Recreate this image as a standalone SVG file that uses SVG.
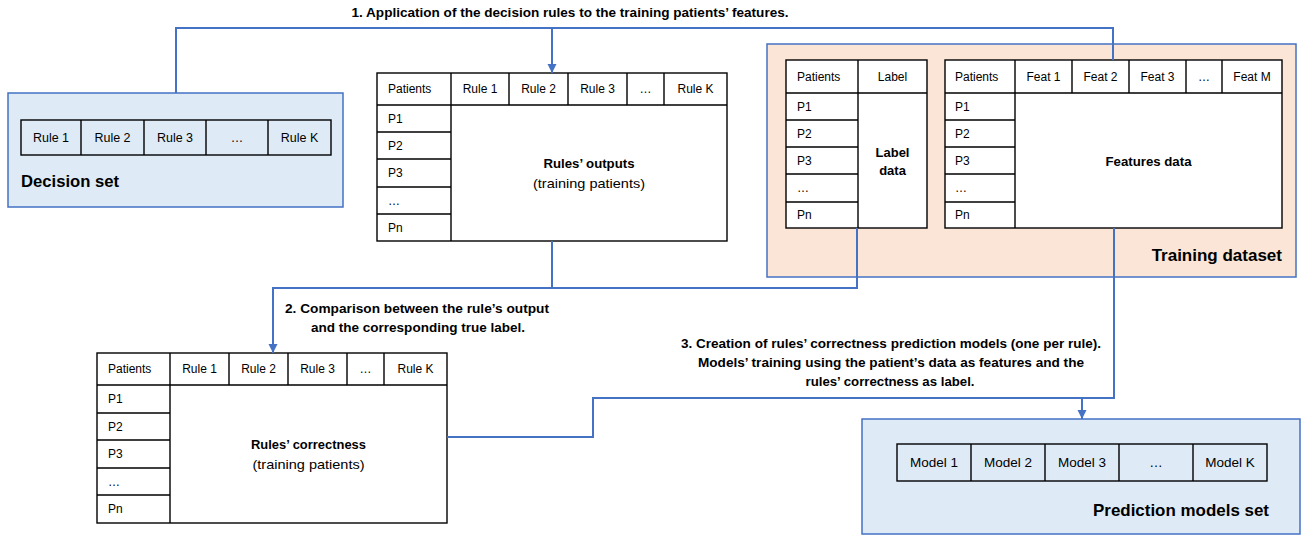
<svg xmlns="http://www.w3.org/2000/svg" width="1302" height="535" viewBox="0 0 1302 535">
<style>
text{font-family:"Liberation Sans",Arial,sans-serif;fill:#000}
.c{font-size:12px;text-anchor:middle}
.l{font-size:12px}
.b{font-weight:bold;font-size:13px;text-anchor:middle}
.big{font-weight:bold;font-size:16px}
.t{stroke:#000;stroke-width:1.4;fill:none}
.w{fill:#fff;stroke:#000;stroke-width:1.4}
.blue{fill:#DEEBF7;stroke:#4472C4;stroke-width:1.5}
.orange{fill:#FBE5D6;stroke:#4472C4;stroke-width:1.5}
.cn{stroke:#4472C4;stroke-width:2;fill:none}
</style>
<defs>
<marker id="ah" markerUnits="userSpaceOnUse" markerWidth="10" markerHeight="10" refX="9" refY="5" orient="auto">
<path d="M0,0.5 L9,5 L0,9.5 Z" fill="#4472C4"/>
</marker>
</defs>

<g id="decision-set">
<rect class="blue" x="8" y="93" width="335" height="114"/>
<rect class="t" x="21" y="120" width="310" height="35"/>
<path class="t" d="M81,120V155M144,120V155M206,120V155M268,120V155"/>
<text class="c" x="51" y="142" style="font-size:12.5px">Rule 1</text>
<text class="c" x="112.5" y="142" style="font-size:12.5px">Rule 2</text>
<text class="c" x="175" y="142" style="font-size:12.5px">Rule 3</text>
<text class="c" x="237" y="142" style="font-size:12.5px">…</text>
<text class="c" x="299.5" y="142" style="font-size:12.5px">Rule K</text>
<text class="big" x="21" y="187" textLength="98" lengthAdjust="spacingAndGlyphs">Decision set</text>
</g>

<g id="rules-outputs">
<rect class="w" x="377" y="73" width="350" height="168"/>
<path class="t" d="M377,105H727M451,73V241M509,73V105M568,73V105M627,73V105M664,73V105M377,132H451M377,159H451M377,187H451M377,214H451"/>
<text class="l" x="388" y="93">Patients</text>
<text class="c" x="480" y="93">Rule 1</text>
<text class="c" x="538.5" y="93">Rule 2</text>
<text class="c" x="597.5" y="93">Rule 3</text>
<text class="c" x="645.5" y="93">…</text>
<text class="c" x="695.5" y="93">Rule K</text>
<text class="l" x="388" y="123">P1</text>
<text class="l" x="388" y="150">P2</text>
<text class="l" x="388" y="177">P3</text>
<text class="l" x="388" y="205">…</text>
<text class="l" x="388" y="232">Pn</text>
<text class="b" x="589" y="168" textLength="91" lengthAdjust="spacingAndGlyphs">Rules’ outputs</text>
<text class="c" x="589" y="188" style="font-size:13px" textLength="112" lengthAdjust="spacingAndGlyphs">(training patients)</text>
</g>

<g id="training-dataset">
<rect class="orange" x="767" y="44" width="529" height="233"/>
<g id="label-table">
<rect class="w" x="786" y="60" width="141" height="168"/>
<path class="t" d="M786,93H927M858,60V228M786,120H858M786,147H858M786,174H858M786,202H858"/>
<text class="l" x="797" y="81">Patients</text>
<text class="c" x="892.5" y="81">Label</text>
<text class="l" x="797" y="111">P1</text>
<text class="l" x="797" y="138">P2</text>
<text class="l" x="797" y="165">P3</text>
<text class="l" x="797" y="192">…</text>
<text class="l" x="797" y="219">Pn</text>
<text class="b" x="892.5" y="157">Label</text>
<text class="b" x="892.5" y="175">data</text>
</g>
<g id="features-table">
<rect class="w" x="945" y="60" width="337" height="168"/>
<path class="t" d="M945,93H1282M1015,60V228M1072,60V93M1129,60V93M1186,60V93M1222,60V93M945,120H1015M945,147H1015M945,174H1015M945,202H1015"/>
<text class="l" x="955" y="81">Patients</text>
<text class="c" x="1043.5" y="81">Feat 1</text>
<text class="c" x="1100.5" y="81">Feat 2</text>
<text class="c" x="1157.5" y="81">Feat 3</text>
<text class="c" x="1204" y="81">…</text>
<text class="c" x="1252" y="81">Feat M</text>
<text class="l" x="955" y="111">P1</text>
<text class="l" x="955" y="138">P2</text>
<text class="l" x="955" y="165">P3</text>
<text class="l" x="955" y="192">…</text>
<text class="l" x="955" y="219">Pn</text>
<text class="b" x="1148.5" y="166" textLength="86" lengthAdjust="spacingAndGlyphs">Features data</text>
</g>
<text class="big" x="1282" y="261" text-anchor="end" style="font-size:17px">Training dataset</text>
</g>

<g id="rules-correctness">
<rect class="w" x="97" y="353" width="350" height="170"/>
<path class="t" d="M97,385H447M170,353V523M229,353V385M288,353V385M347,353V385M384,353V385M97,413H170M97,440H170M97,468H170M97,495H170"/>
<text class="l" x="108" y="373">Patients</text>
<text class="c" x="199.5" y="373">Rule 1</text>
<text class="c" x="258.5" y="373">Rule 2</text>
<text class="c" x="317.5" y="373">Rule 3</text>
<text class="c" x="365.5" y="373">…</text>
<text class="c" x="415.5" y="373">Rule K</text>
<text class="l" x="108" y="403">P1</text>
<text class="l" x="108" y="431">P2</text>
<text class="l" x="108" y="458">P3</text>
<text class="l" x="108" y="486">…</text>
<text class="l" x="108" y="513">Pn</text>
<text class="b" x="308.5" y="449" textLength="115" lengthAdjust="spacingAndGlyphs">Rules’ correctness</text>
<text class="c" x="308.5" y="469" style="font-size:13px" textLength="112" lengthAdjust="spacingAndGlyphs">(training patients)</text>
</g>

<g id="prediction-models-set">
<rect class="blue" x="862" y="419" width="438" height="115"/>
<rect class="t" x="897" y="444" width="370" height="37"/>
<path class="t" d="M971,444V481M1045,444V481M1119,444V481M1193,444V481"/>
<text class="c" x="934" y="467" style="font-size:13.5px">Model 1</text>
<text class="c" x="1008" y="467" style="font-size:13.5px">Model 2</text>
<text class="c" x="1082" y="467" style="font-size:13.5px">Model 3</text>
<text class="c" x="1156" y="467" style="font-size:13.5px">…</text>
<text class="c" x="1230" y="467" style="font-size:13.5px">Model K</text>
<text class="big" x="1269" y="516" text-anchor="end" style="font-size:17px" textLength="176" lengthAdjust="spacingAndGlyphs">Prediction models set</text>
</g>

<g id="connectors">
<path class="cn" d="M176,93V28H1113V60"/>
<path class="cn" d="M552,28V73" marker-end="url(#ah)"/>
<path class="cn" d="M552,241V288"/>
<path class="cn" d="M857,228V288H273V353" marker-end="url(#ah)"/>
<path class="cn" d="M447,437H593V398H1114V228"/>
<path class="cn" d="M1082,398V419" marker-end="url(#ah)"/>
</g>

<g id="labels">
<text class="b" x="570" y="17" style="font-size:12px" textLength="437" lengthAdjust="spacingAndGlyphs">1. Application of the decision rules to the training patients’ features.</text>
<text class="b" x="417" y="313" style="font-size:12px" textLength="264" lengthAdjust="spacingAndGlyphs">2. Comparison between the rule’s output</text>
<text class="b" x="418" y="332" style="font-size:12px" textLength="214" lengthAdjust="spacingAndGlyphs">and the corresponding true label.</text>
<text class="b" x="891" y="348" style="font-size:12px" textLength="420" lengthAdjust="spacingAndGlyphs">3. Creation of rules’ correctness prediction models (one per rule).</text>
<text class="b" x="891" y="367" style="font-size:12px" textLength="386" lengthAdjust="spacingAndGlyphs">Models’ training using the patient’s data as features and the</text>
<text class="b" x="890" y="386" style="font-size:12px" textLength="169" lengthAdjust="spacingAndGlyphs">rules’ correctness as label.</text>
</g>
</svg>
